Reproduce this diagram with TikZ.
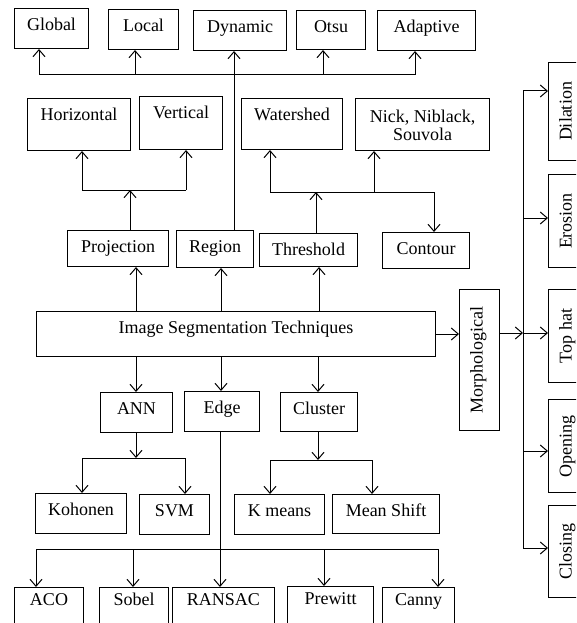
\documentclass[tikz,border=0pt]{standalone}
\usepackage{fontspec}
\setmainfont{Liberation Serif}
\usetikzlibrary{arrows.meta}
\tikzset{
  box/.style={draw, inner sep=0pt, anchor=north west, text height=22pt},
  low/.style={text height=18pt},
  side/.style={box, rotate=90, text height=23pt, text depth=17pt},
  arr/.style={-{Straight Barb[length=7pt,width=12pt]}},
}
\begin{document}
\begin{tikzpicture}[x=1pt, y=-1pt, line width=1pt, font=\fontsize{18}{18}\selectfont]
  \useasboundingbox (0,0) rectangle (576,623);
  \clip (0,0) rectangle (576,623);
  % top row
  \node[box, minimum width=74pt, text depth=18pt] at (14,8) (Global) {Global};
  \node[box, minimum width=70pt, text depth=18pt] at (108,9) (Local) {Local};
  \node[box, minimum width=93pt, text depth=18pt] at (193,10) (Dynamic) {Dynamic};
  \node[box, minimum width=69pt, text depth=17pt] at (296,10) (Otsu) {Otsu};
  \node[box, minimum width=98pt, text depth=18pt] at (377,10) (Adaptive) {Adaptive};
  % second row
  \node[box, minimum width=103pt, text depth=30pt] at (27,98) (Horizontal) {Horizontal};
  \node[box, minimum width=83pt, text depth=31pt] at (139,96) (Vertical) {Vertical};
  \node[box, minimum width=101pt, text depth=29pt] at (241,98) (Watershed) {Watershed};
  \node[box, minimum width=134pt, text height=42pt, text depth=10pt, align=center] at (355,98) (Nick) {Nick, Niblack,\\Souvola};
  % third row
  \node[box, minimum width=101pt, text depth=14pt] at (67,230) (Projection) {Projection};
  \node[box, minimum width=77pt, text depth=15pt] at (176,230) (Region) {Region};
  \node[box, minimum width=98pt, text depth=11pt] at (259,233) (Threshold) {Threshold};
  \node[box, minimum width=87pt, text depth=14pt] at (382,232) (Contour) {Contour};
  % main
  \node[box, minimum width=399pt, text depth=23pt] at (36,311) (Main) {Image Segmentation Techniques};
  \node[side, minimum width=141pt] at (459,431) (Morph) {Morphological};
  % morphological operations
  \node[side, minimum width=98pt] at (548,161) (Dilation) {Dilation};
  \node[side, minimum width=93pt] at (548,268) (Erosion) {Erosion};
  \node[side, minimum width=93pt] at (548,383) (Tophat) {Top hat};
  \node[side, minimum width=93pt] at (548,493) (Opening) {Opening};
  \node[side, minimum width=92pt] at (548,598) (Closing) {Closing};
  % lower rows
  \node[box, minimum width=72pt, text depth=18pt] at (100,392) (ANN) {ANN};
  \node[box, minimum width=75pt, text depth=18pt] at (184,391) (Edge) {Edge};
  \node[box, minimum width=77pt, text depth=17pt] at (280,392) (Cluster) {Cluster};
  \node[box, minimum width=91pt, text depth=18pt] at (35,493) (Kohonen) {Kohonen};
  \node[box, minimum width=70pt, text depth=18pt] at (139,494) (SVM) {SVM};
  \node[box, minimum width=90pt, text depth=18pt] at (234,494) (Kmeans) {K means};
  \node[box, minimum width=107pt, text depth=17pt] at (332,494) (Meanshift) {Mean Shift};
  \node[box, low, minimum width=69pt, text depth=42pt] at (14,587) (ACO) {ACO};
  \node[box, low, minimum width=69pt, text depth=42pt] at (99,587) (Sobel) {Sobel};
  \node[box, low, minimum width=102pt, text depth=42pt] at (172,587) (RANSAC) {RANSAC};
  \node[box, low, minimum width=86pt, text depth=42pt] at (287,586) (Prewitt) {Prewitt};
  \node[box, low, minimum width=72pt, text depth=42pt] at (382,587) (Canny) {Canny};

  % top bus
  \coordinate (t1) at (39,75);
  \coordinate (t2) at (135,75);
  \coordinate (t3) at (234,75);
  \coordinate (t4) at (323,75);
  \coordinate (t5) at (415,75);
  \draw (t1) -- (t5);
  \foreach \c/\n in {t1/Global, t2/Local, t4/Otsu, t5/Adaptive}
    \draw[arr] (\c) -- (\c |- \n.south);
  \draw[arr] (Region.north -| t3) -- (Dynamic.south -| t3);
  % projection
  \coordinate (p0) at (130,190);
  \coordinate (p1) at (82,190);
  \coordinate (p2) at (186,190);
  \draw[arr] (Projection.north -| p0) -- (p0);
  \draw (p1) -- (p2);
  \draw[arr] (p1) -- (p1 |- Horizontal.south);
  \draw[arr] (p2) -- (p2 |- Vertical.south);
  % threshold
  \coordinate (h0) at (316,192);
  \coordinate (h1) at (270,192);
  \coordinate (h2) at (374,192);
  \coordinate (h3) at (434,192);
  \draw[arr] (Threshold.north -| h0) -- (h0);
  \draw (h1) -- (h3);
  \draw[arr] (h1) -- (h1 |- Watershed.south);
  \draw[arr] (h2) -- (h2 |- Nick.south);
  \draw[arr] (h3) -- (h3 |- Contour.north);
  % main up and down
  \foreach \x/\n in {136/Projection, 221/Region, 319/Threshold}
    \draw[arr] (Main.north -| \x,0) -- (\n.south -| \x,0);
  \foreach \x/\n in {136/ANN, 221/Edge, 318/Cluster}
    \draw[arr] (Main.south -| \x,0) -- (\n.north -| \x,0);
  % morphological
  \coordinate (mb) at (523,333);
  \draw[arr] (Main.east) -- (Morph.north |- Main.east);
  \draw[arr] (Morph.south |- mb) -- (mb);
  \draw (mb |- 0,91) -- (mb |- 0,548);
  \foreach \y/\n in {91/Dilation, 218/Erosion, 333/Tophat, 451/Opening, 548/Closing}
    \draw[arr] (mb |- 0,\y) -- (\n.north |- 0,\y);
  % ann
  \coordinate (a0) at (136,458);
  \coordinate (a1) at (82,458);
  \coordinate (a2) at (185,458);
  \draw[arr] (ANN.south -| a0) -- (a0);
  \draw (a1) -- (a2);
  \draw[arr] (a1) -- (a1 |- Kohonen.north);
  \draw[arr] (a2) -- (a2 |- SVM.north);
  % cluster
  \coordinate (c0) at (318,460);
  \coordinate (c1) at (270,460);
  \coordinate (c2) at (372,460);
  \draw[arr] (Cluster.south -| c0) -- (c0);
  \draw (c1) -- (c2);
  \draw[arr] (c1) -- (c1 |- Kmeans.north);
  \draw[arr] (c2) -- (c2 |- Meanshift.north);
  % edge
  \coordinate (e1) at (36,549);
  \coordinate (e2) at (133,549);
  \coordinate (e3) at (324,549);
  \coordinate (e4) at (438,549);
  \draw[arr] (Edge.south -| 220,0) -- (RANSAC.north -| 220,0);
  \draw (e1) -- (e4);
  \foreach \c/\n in {e1/ACO, e2/Sobel, e3/Prewitt, e4/Canny}
    \draw[arr] (\c) -- (\c |- \n.north);
\end{tikzpicture}
\end{document}
